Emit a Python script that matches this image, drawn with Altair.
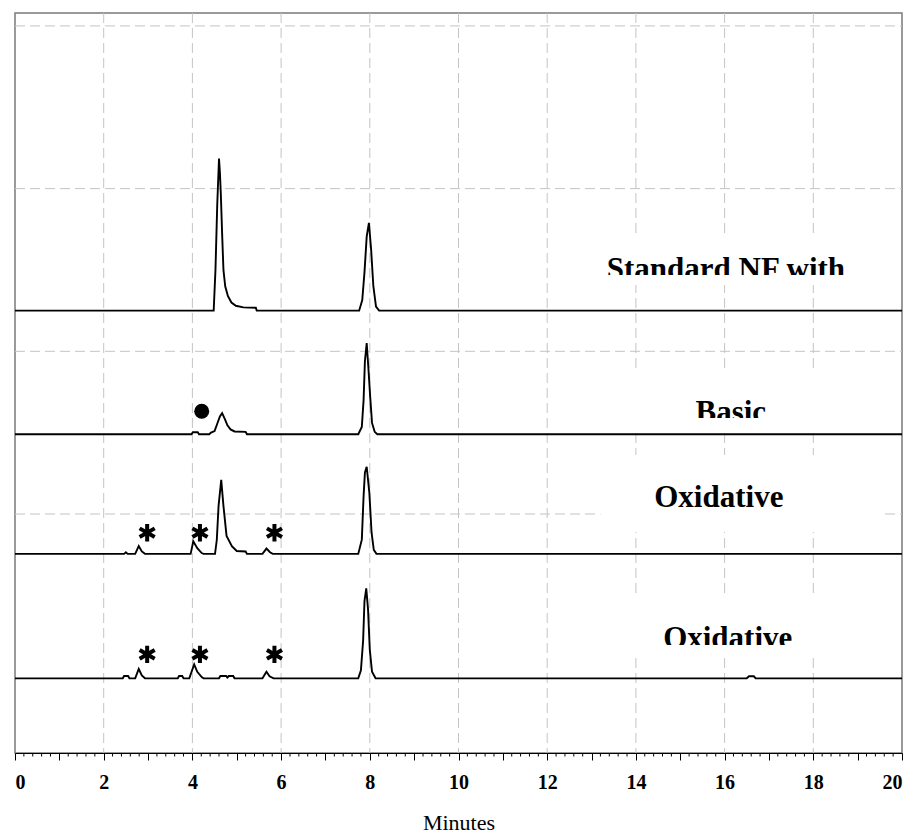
import altair as alt
import pandas as pd

# ---------------- data ----------------
trace_names = ["Standard NF with", "Basic", "Oxidative A", "Oxidative B"]
trace_offsets = [25.0, 9.8, -4.9, -20.2]

t_std = [0, 4.48, 4.52, 4.56, 4.60, 4.62, 4.64, 4.67, 4.70, 4.74, 4.80, 4.88, 4.98, 5.15, 5.43, 5.45,
         7.76, 7.83, 7.88, 7.93, 7.98, 8.03, 8.08, 8.14, 8.21, 20]
s_std = [0, 0, 5.0, 13.0, 18.7, 17.0, 14.5, 9.5, 5.0, 3.0, 1.8, 1.0, 0.6, 0.4, 0.35, 0,
         0, 1.3, 4.7, 9.1, 10.8, 7.5, 3.0, 0.5, 0, 0]

t_bas = [0, 3.98, 4.01, 4.12, 4.15, 4.38, 4.42, 4.50, 4.56, 4.62, 4.67, 4.73, 4.79, 4.86, 4.95, 5.20, 5.23,
         7.74, 7.82, 7.86, 7.89, 7.93, 7.97, 8.01, 8.05, 8.11, 8.17, 20]
s_bas = [0, 0, 0.25, 0.25, 0, 0, 0.2, 0.4, 1.3, 2.2, 2.6, 1.9, 1.1, 0.6, 0.35, 0.3, 0,
         0, 0.9, 4.2, 9.0, 11.2, 8.0, 4.5, 1.4, 0.3, 0, 0]

t_ox1 = [0, 2.46, 2.50, 2.54, 2.71, 2.79, 2.86, 2.93, 3.96, 4.02, 4.11, 4.21, 4.25,
         4.51, 4.55, 4.59, 4.65, 4.70, 4.77, 4.89, 5.00, 5.20, 5.23, 5.58, 5.67, 5.75, 5.81,
         7.74, 7.82, 7.86, 7.89, 7.93, 7.99, 8.04, 8.09, 8.15, 20]
s_ox1 = [0, 0, 0.2, 0, 0, 0.95, 0.3, 0, 0, 1.55, 0.7, 0.1, 0,
         0, 1.7, 5.9, 9.1, 5.9, 2.2, 0.95, 0.35, 0.3, 0, 0, 0.65, 0.2, 0,
         0, 1.75, 7.1, 10.0, 10.7, 7.5, 2.6, 0.5, 0, 0]

t_ox2 = [0, 2.43, 2.46, 2.55, 2.58, 2.71, 2.79, 2.86, 2.93, 3.67, 3.70, 3.77, 3.80,
         3.93, 4.04, 4.11, 4.21, 4.25, 4.60, 4.63, 4.76, 4.79, 4.82, 4.92, 4.95,
         5.58, 5.67, 5.74, 5.83, 7.74, 7.80, 7.85, 7.88, 7.92, 7.96, 8.00, 8.05, 8.13,
         16.50, 16.55, 16.66, 16.70, 20]
s_ox2 = [0, 0, 0.28, 0.28, 0, 0, 1.15, 0.35, 0, 0, 0.28, 0.28, 0,
         0, 1.72, 0.8, 0.15, 0, 0, 0.28, 0.28, 0.1, 0.28, 0.28, 0,
         0, 0.82, 0.25, 0, 0, 1.0, 4.7, 9.5, 11.06, 8.5, 3.5, 0.8, 0,
         0, 0.25, 0.25, 0, 0]

# annotations
label_text = ["Standard NF with", "Basic", "Oxidative", "Oxidative"]
label_x = [16.03, 16.14, 15.87, 16.07]
label_y = [28.95, 11.31, 0.86, -16.47]
box_x0 = [13.2, 13.2, 13.2, 13.2]
box_x1 = [19.6, 19.6, 19.6, 19.6]
box_top = [34.3, 17.7, 7.25, -10.2]
box_bottom = [28.15, 10.57, -2.21, -17.09]
clip_y = [29.38, 11.8, -0.98, -16.1]

circle_x = [4.21]
circle_y = [12.63]
star_x = [2.98, 4.17, 5.85, 2.98, 4.17, 5.85]
star_y = [-2.3, -2.3, -2.3, -17.25, -17.25, -17.25]

x_label_values = list(range(0, 21))
x_grid_values = [2, 4, 6, 8, 10, 12, 14, 16, 18]
y_grid_values = [0, 20, 40, 60]
minor_tick_values = [i / 5 for i in range(101) if i % 5 != 0]

# ---------------- build tables ----------------
rows = []
for name, off, ts, ss in zip(trace_names, trace_offsets,
                             [t_std, t_bas, t_ox1, t_ox2], [s_std, s_bas, s_ox1, s_ox2]):
    assert len(ts) == len(ss), name
    for i, (t, s) in enumerate(zip(ts, ss)):
        rows.append({"trace": name, "i": i, "t": t, "v": off + s})
traces_df = pd.DataFrame(rows)

ann_df = pd.DataFrame({"label": label_text, "x": label_x, "y": label_y,
                       "x0": box_x0, "x1": box_x1, "top": box_top,
                       "bottom": box_bottom, "clip": clip_y})

W, H = 887, 740
xs = alt.Scale(domain=[0, 20], nice=False, zero=False)
ys = alt.Scale(domain=[-29.38, 61.59], nice=False, zero=False)

x_axis = alt.Axis(title="Minutes", values=x_label_values, tickSize=7, tickColor="black",
                  domainColor="black", domainWidth=1, grid=False,
                  labelExpr="datum.value % 2 === 0 ? datum.label : ''",
                  labelFont="Liberation Serif", labelFontWeight="bold",
                  labelFontSize=20, labelColor="black", labelPadding=12,
                  titleFont="Liberation Serif", titleFontWeight="normal",
                  titleFontSize=22, titleColor="black",
                  titleBaseline="alphabetic", titleY=76)


def X(field):
    return alt.X(field, scale=xs, axis=x_axis)


def Y(field):
    return alt.Y(field, scale=ys, axis=None)


grid_dash = [10, 5]
grid_col = "#c4c4c4"

vgrid = alt.Chart(pd.DataFrame({"g": x_grid_values})).mark_rule(
    color=grid_col, strokeDash=grid_dash, strokeWidth=1).encode(
    x=X("g:Q"), y=alt.value(0), y2=alt.value(H))

hgrid = alt.Chart(pd.DataFrame({"g": y_grid_values})).mark_rule(
    color=grid_col, strokeDash=grid_dash, strokeWidth=1).encode(
    y=Y("g:Q"), x=alt.value(0), x2=alt.value(W))

boxes = alt.Chart(ann_df).mark_rect(fill="white").encode(
    x=X("x0:Q"), x2="x1:Q", y=Y("top:Q"), y2="bottom:Q")

texts = alt.Chart(ann_df).mark_text(
    font="Liberation Serif", fontWeight="bold", fontSize=31,
    baseline="alphabetic", align="center", color="black").encode(
    x=X("x:Q"), y=Y("y:Q"), text="label:N")

strips = alt.Chart(ann_df).mark_rect(fill="white").encode(
    x=X("x0:Q"), x2="x1:Q", y=Y("clip:Q"), y2="bottom:Q")

minor = alt.Chart(pd.DataFrame({"m": minor_tick_values})).mark_rule(
    color="black", strokeWidth=1).encode(
    x=X("m:Q"), y=alt.value(H), y2=alt.value(H + 3.5))

lines = alt.Chart(traces_df).mark_line(color="black", strokeWidth=1.9).encode(
    x=X("t:Q"), y=Y("v:Q"), detail="trace:N", order="i:Q")

circ = alt.Chart(pd.DataFrame({"x": circle_x, "y": circle_y})).mark_point(
    shape="circle", filled=True, size=225, color="black", opacity=1).encode(
    x=X("x:Q"), y=Y("y:Q"))

star_path = "M0,-1L0,1M-0.87,-0.5L0.87,0.5M-0.87,0.5L0.87,-0.5"
stars = alt.Chart(pd.DataFrame({"x": star_x, "y": star_y})).mark_point(
    shape=star_path, filled=False, size=300, color="black", strokeWidth=4,
    opacity=1).encode(
    x=X("x:Q"), y=Y("y:Q"))

chart = alt.layer(vgrid, hgrid, boxes, texts, strips, minor, lines, circ, stars).properties(
    width=W, height=H,
    padding={"left": 15, "top": 13, "right": 12, "bottom": 81},
    autosize=alt.AutoSizeParams(type="none"),
    background="white",
).configure_view(stroke="#7a7a7a", strokeWidth=1.5)

chart.save("out.html", embed_options={"renderer": "svg", "actions": False})
